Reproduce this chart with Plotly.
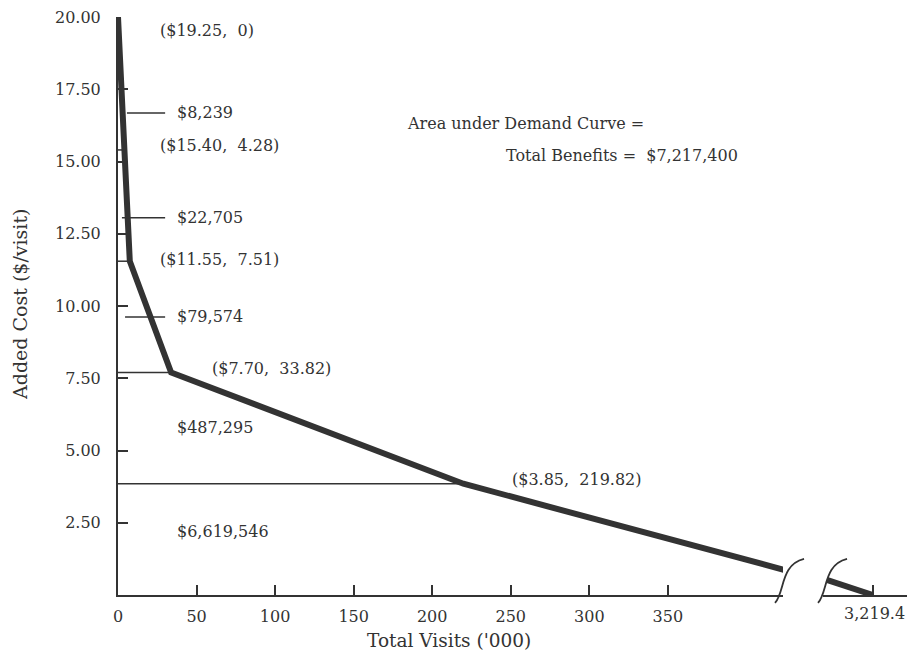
import plotly.graph_objects as go

# demand curve (price in $/visit, visits in '000), left of the axis break
curve_visits = [0, 4.28, 7.51, 33.82, 219.82, 424]
curve_price = [20.0, 15.40, 11.55, 7.70, 3.85, 0.87]
# piece of the curve right of the axis break
tail_visits = [3190, 3219.4]
tail_price = [0.52, 0.0]

# horizontal price levels drawn from the axis to the curve
level_price = [15.40, 11.55, 7.70, 3.85]
level_visits = [4.28, 7.51, 33.82, 219.82]

# point labels
point_text = ["($19.25,  0)", "($15.40,  4.28)", "($11.55,  7.51)",
              "($7.70,  33.82)", "($3.85,  219.82)"]
point_x = [25.5, 25.5, 25.5, 58.6, 249.5]
point_y = [19.55, 15.55, 11.6, 7.85, 3.98]

# benefit area labels
area_text = ["$8,239", "$22,705", "$79,574", "$487,295", "$6,619,546"]
area_y = [16.68, 13.05, 9.62, 5.78, 2.2]
leader_x0 = [5.7, 2.5, 4.5]

y_ticks = [2.5, 5, 7.5, 10, 12.5, 15, 17.5, 20]
x_ticks = [0, 50, 100, 150, 200, 250, 300, 350]
end_tick = 3219.4

INK = "#333333"
FONT = "DejaVu Serif"
FS = 16

W, H = 907, 662
ML, MR, MT, MB = 118, 0, 17, 67
PW, PH = W - ML - MR, H - MT - MB


def px(x):
    return (x - ML) / PW


def py(y):
    return (H - MB - y) / PH


fig = go.Figure()

for p, v in zip(level_price, level_visits):
    fig.add_trace(go.Scatter(x=[0, v], y=[p, p], mode="lines",
                             line=dict(color=INK, width=1.5),
                             hoverinfo="skip", showlegend=False))

fig.add_trace(go.Scatter(x=curve_visits, y=curve_price, mode="lines",
                         line=dict(color=INK, width=6),
                         showlegend=False))
fig.add_trace(go.Scatter(x=tail_visits, y=tail_price, mode="lines",
                         xaxis="x2", yaxis="y",
                         line=dict(color=INK, width=6),
                         showlegend=False))

annotations = []
for t, x, y in zip(point_text, point_x, point_y):
    annotations.append(dict(x=x, y=y, xref="x", yref="y", text=t,
                            xanchor="left", yanchor="middle", showarrow=False))
for t, y in zip(area_text, area_y):
    annotations.append(dict(x=36.3, y=y, xref="x", yref="y", text=t,
                            xanchor="left", yanchor="middle", showarrow=False))
annotations += [
    dict(x=182.7, y=16.3, xref="x", yref="y", text="Area under Demand Curve =",
         xanchor="left", yanchor="middle", showarrow=False),
    dict(x=396, y=15.2, xref="x", yref="y", text="Total Benefits =  $7,217,400",
         xanchor="right", yanchor="middle", showarrow=False),
    dict(x=1, y=py(613), xref="paper", yref="paper",
         text=f"{end_tick:,.1f}", xanchor="right", yanchor="middle",
         showarrow=False),
    dict(x=px(449), y=py(640), xref="paper", yref="paper",
         text="Total Visits ('000)", xanchor="center", yanchor="middle",
         showarrow=False, font=dict(size=18.5)),
    dict(x=px(20), y=py(305), xref="paper", yref="paper",
         text="Added Cost ($/visit)", textangle=-90, xanchor="center",
         yanchor="middle", showarrow=False, font=dict(size=19)),
]

shapes = []
for x0, y in zip(leader_x0, area_y[:3]):
    shapes.append(dict(type="line", xref="x", yref="y", x0=x0, x1=30, y0=y, y1=y,
                       line=dict(color=INK, width=1.5)))
# axis-break arcs
for dx in (0, 43):
    path = "M {:.4f},{:.4f} C {:.4f},{:.4f} {:.4f},{:.4f} {:.4f},{:.4f}".format(
        px(775 + dx), py(603), px(785 + dx), py(592),
        px(780 + dx), py(565), px(804 + dx), py(559))
    shapes.append(dict(type="path", xref="paper", yref="paper", path=path,
                       line=dict(color=INK, width=1.8)))

fig.update_layout(
    width=W, height=H,
    margin=dict(l=ML, r=MR, t=MT, b=MB, autoexpand=False),
    paper_bgcolor="white", plot_bgcolor="white",
    font=dict(family=FONT, size=FS, color=INK),
    annotations=annotations, shapes=shapes,
    xaxis=dict(domain=[0, px(783)], range=[0, (783 - ML) / 1.571],
               tickvals=x_ticks, ticks="inside", ticklen=10, tickwidth=1.5,
               tickcolor=INK, showline=True, linewidth=2, linecolor=INK,
               showgrid=False, zeroline=False, ticklabelstandoff=6,
               automargin=False),
    xaxis2=dict(domain=[px(823), 1], range=[3187.6, 3241.1], anchor="y",
                tickvals=[end_tick], showticklabels=False, ticks="inside",
                ticklen=10, tickwidth=1.5, tickcolor=INK, showline=True,
                linewidth=2, linecolor=INK, showgrid=False, zeroline=False,
                automargin=False),
    yaxis=dict(range=[0, 20], tickvals=y_ticks, tickformat=".2f",
               ticks="inside", ticklen=10, tickwidth=1.5, tickcolor=INK,
               showline=True, linewidth=2, linecolor=INK, showgrid=False,
               zeroline=False, ticklabelstandoff=12, automargin=False),
)

# page body has a default 8px margin; drop it so the figure sits at the corner
fig.write_html("out.html", config={"displayModeBar": False},
               post_script="document.body.style.margin = '0';")
